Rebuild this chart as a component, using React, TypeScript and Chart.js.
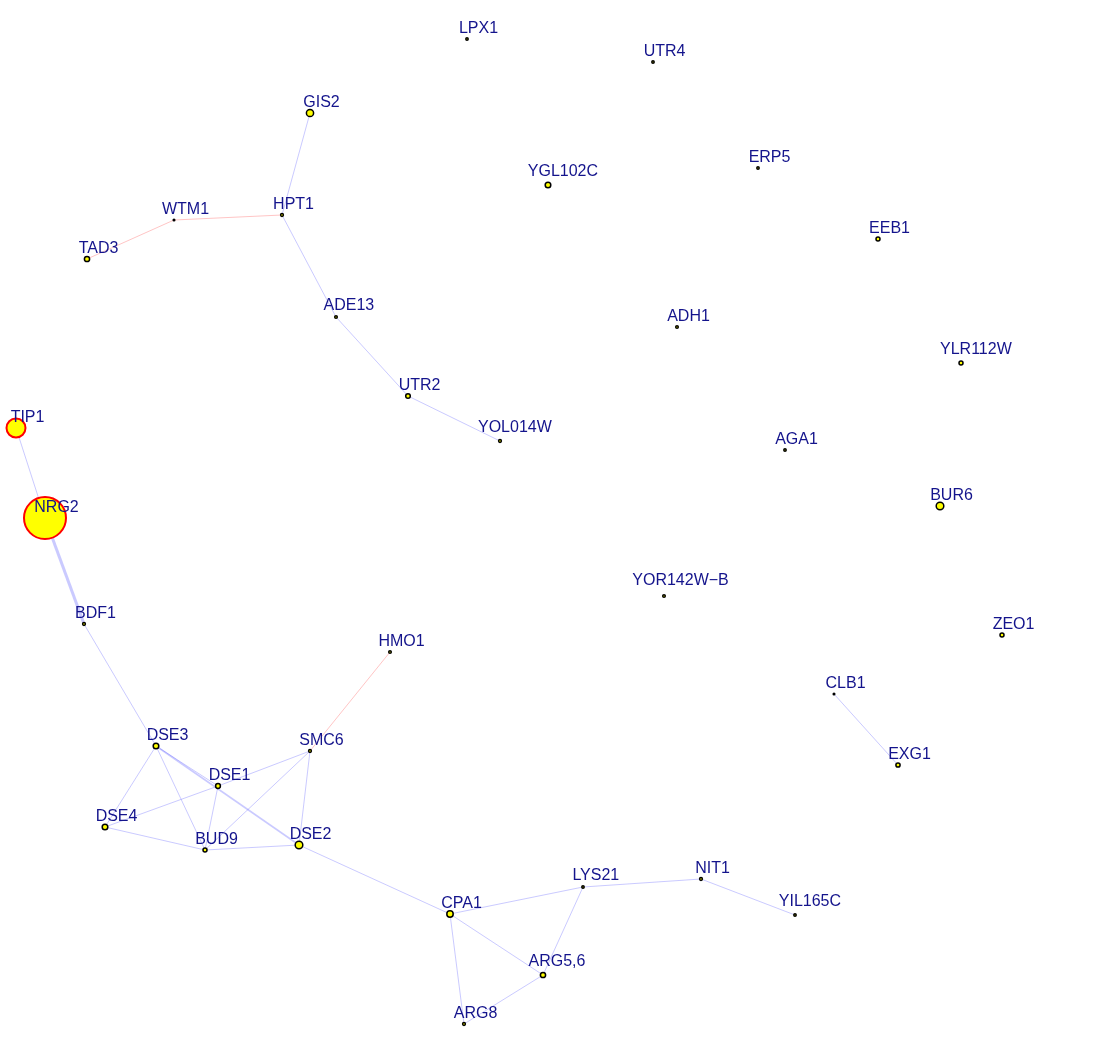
import React, { useEffect, useRef } from "react";
import { Chart, registerables } from "chart.js";

Chart.register(...registerables);

// Node layout (layout units), sizes and fills
const nodeNames = [
  "LPX1", "UTR4", "GIS2", "YGL102C", "ERP5", "WTM1", "HPT1", "TAD3", "EEB1",
  "ADE13", "ADH1", "YLR112W", "UTR2", "YOL014W", "TIP1", "AGA1", "NRG2", "BUR6",
  "YOR142W\u2212B", "BDF1", "ZEO1", "HMO1", "CLB1", "DSE3", "SMC6", "EXG1", "DSE1",
  "DSE4", "BUD9", "DSE2", "LYS21", "NIT1", "YIL165C", "CPA1", "ARG5,6", "ARG8",
];
const nodeX = [
  467, 653, 310, 548, 758, 174, 282, 87, 878,
  336, 677, 961, 408, 500, 16, 785, 45, 940,
  664, 84, 1002, 390, 834, 156, 310, 898, 218,
  105, 205, 299, 583, 701, 795, 450, 543, 464,
];
const nodeY = [
  39, 62, 113, 185, 168, 220, 215, 259, 239,
  317, 327, 363, 396, 441, 428, 450, 518, 506,
  596, 624, 635, 652, 694, 746, 751, 765, 786,
  827, 850, 845, 887, 879, 915, 914, 975, 1024,
];
const nodeSize = [
  1.2, 1.2, 3.6, 2.8, 1.2, 0.8, 1.4, 2.6, 2.0,
  1.3, 1.3, 2.0, 2.3, 1.4, 9.5, 1.2, 21, 3.8,
  1.3, 1.4, 2.0, 1.3, 0.8, 2.8, 1.4, 2.1, 2.4,
  2.8, 2.0, 3.8, 1.2, 1.4, 1.2, 3.2, 2.6, 1.4,
];
const highlighted = ["TIP1", "NRG2"];

// Edges: from, to, kind ("b" blue, "r" red), weight
const edgeFrom = [
  "GIS2", "HPT1", "WTM1", "HPT1", "ADE13", "UTR2", "TIP1", "NRG2", "BDF1", "HMO1",
  "DSE3", "DSE3", "DSE3", "DSE3", "DSE1", "DSE1", "DSE1", "SMC6", "SMC6", "DSE4",
  "BUD9", "DSE2", "CPA1", "CPA1", "CPA1", "LYS21", "LYS21", "ARG5,6", "NIT1", "CLB1",
];
const edgeTo = [
  "HPT1", "WTM1", "TAD3", "ADE13", "UTR2", "YOL014W", "NRG2", "BDF1", "DSE3", "SMC6",
  "DSE4", "BUD9", "DSE2", "DSE1", "DSE4", "SMC6", "BUD9", "BUD9", "DSE2", "BUD9",
  "DSE2", "CPA1", "LYS21", "ARG5,6", "ARG8", "ARG5,6", "NIT1", "ARG8", "YIL165C", "EXG1",
];
const edgeKind = [
  "b", "r", "r", "b", "b", "b", "b", "b", "b", "r",
  "b", "b", "b", "b", "b", "b", "b", "b", "b", "b",
  "b", "b", "b", "b", "b", "b", "b", "b", "b", "b",
];
const edgeWeight = [
  1, 1, 1, 1, 1, 1, 1, 3, 1, 1,
  1, 1, 1.6, 1, 1, 1, 1, 1, 1, 1,
  1, 1, 1, 1, 1, 1, 1, 1, 1, 1,
];

const W = 1108;
const H = 1049;

const labelPlugin = {
  id: "nodeLabels",
  afterDatasetsDraw(chart: any) {
    const ctx = chart.ctx;
    const xs = chart.scales.x;
    const ys = chart.scales.y;
    ctx.save();
    ctx.font = '16px "Liberation Sans", Arial, sans-serif';
    ctx.fillStyle = "#14148C";
    ctx.textAlign = "center";
    ctx.textBaseline = "middle";
    nodeNames.forEach((name, i) => {
      const px = xs.getPixelForValue(nodeX[i]);
      const py = ys.getPixelForValue(nodeY[i]);
      const off = 16.5 * Math.log10(name.length + 1);
      ctx.fillText(name, px + off, py - off + 1);
    });
    ctx.restore();
  },
};

export default function App() {
  const ref = useRef<HTMLCanvasElement | null>(null);
  useEffect(() => {
    if (!ref.current) return;
    const idx = (n: string) => nodeNames.indexOf(n);
    const edgeSets: any[] = edgeFrom.map((f, k) => {
      const a = idx(f);
      const b = idx(edgeTo[k]);
      return {
        type: "scatter",
        data: [
          { x: nodeX[a], y: nodeY[a] },
          { x: nodeX[b], y: nodeY[b] },
        ],
        showLine: true,
        borderColor: edgeKind[k] === "r" ? "rgba(255,110,110,0.4)" : "rgba(90,90,255,0.32)",
        borderWidth: edgeWeight[k],
        pointRadius: 0,
        order: 2,
      };
    });
    const nodeSet: any = {
      type: "scatter",
      data: nodeNames.map((_, i) => ({ x: nodeX[i], y: nodeY[i] })),
      pointRadius: nodeSize,
      pointHoverRadius: nodeSize,
      pointBackgroundColor: "#FFFF00",
      pointBorderColor: nodeNames.map((n) => (highlighted.includes(n) ? "#FF0000" : "#000000")),
      pointBorderWidth: nodeNames.map((n) => (highlighted.includes(n) ? 2 : 1.5)),
      order: 0,
    };
    const chart = new Chart(ref.current, {
      type: "scatter",
      data: { datasets: [...edgeSets, nodeSet] },
      options: {
        animation: false,
        responsive: false,
        maintainAspectRatio: false,
        layout: { padding: 0, autoPadding: false },
        plugins: { legend: { display: false }, tooltip: { enabled: false } },
        scales: {
          x: { type: "linear", min: 0, max: W, display: false },
          y: { type: "linear", min: 0, max: H, reverse: true, display: false },
        },
      },
      plugins: [labelPlugin],
    });
    return () => chart.destroy();
  }, []);
  return (
    <div style={{ position: "absolute", left: 0, top: 0, width: W, height: H, background: "#fff" }}>
      <canvas ref={ref} width={W} height={H} style={{ width: W, height: H }} />
    </div>
  );
}
